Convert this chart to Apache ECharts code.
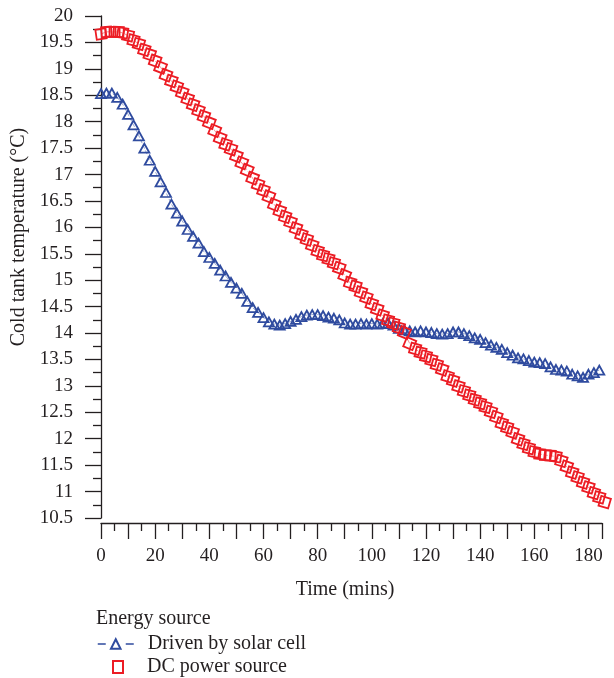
<!DOCTYPE html>
<html>
<head>
<meta charset="utf-8">
<script src="https://cdn.jsdelivr.net/npm/echarts@6/dist/echarts.min.js"></script>
<style>
  html, body { margin: 0; padding: 0; background: #fff; }
  #chart { width: 614px; height: 678px; }
</style>
</head>
<body>
<div id="chart"></div>
<script>
// 时间 (mins)
const solarTime = [0, 2, 4, 6, 8, 10, 12, 14, 16, 18, 20, 22, 24, 26, 28, 30, 32, 34, 36, 38,
  40, 42, 44, 46, 48, 50, 52, 54, 56, 58, 60, 62, 64, 66, 68, 70, 72, 74, 76, 78,
  80, 82, 84, 86, 88, 90, 92, 94, 96, 98, 100, 102, 104, 106, 108, 110, 112, 114, 116, 118,
  120, 122, 124, 126, 128, 130, 132, 134, 136, 138, 140, 142, 144, 146, 148, 150, 152, 154, 156, 158,
  160, 162, 164, 166, 168, 170, 172, 174, 176, 178, 180, 182, 184]
// 冷罐温度 (°C) - 太阳能电池驱动
const solarTemp = [18.53, 18.54, 18.54, 18.46, 18.33, 18.14, 17.94, 17.73, 17.50, 17.27,
  17.06, 16.86, 16.66, 16.44, 16.27, 16.12, 15.96, 15.83, 15.70, 15.54,
  15.43, 15.32, 15.19, 15.08, 14.96, 14.85, 14.75, 14.60, 14.48, 14.39,
  14.29, 14.21, 14.17, 14.15, 14.18, 14.22, 14.26, 14.31, 14.34, 14.35,
  14.35, 14.33, 14.30, 14.28, 14.25, 14.19, 14.17, 14.17, 14.18, 14.17,
  14.18, 14.17, 14.18, 14.19, 14.15, 14.09, 14.06, 14.04, 14.02, 14.04,
  14.02, 14.01, 13.99, 13.98, 13.99, 14.02, 14.02, 13.99, 13.95, 13.91,
  13.88, 13.82, 13.77, 13.73, 13.69, 13.63, 13.58, 13.53, 13.51, 13.48,
  13.45, 13.44, 13.42, 13.36, 13.31, 13.30, 13.28, 13.22, 13.19, 13.16,
  13.22, 13.25, 13.30]

// 直流电源
const dcTime = [0, 2, 3.5, 5, 6.5, 8, 10, 12, 14, 16, 18, 20, 22, 24, 26, 28, 30, 32, 34, 36, 38,
  40, 42, 44, 46, 48, 50, 52, 54, 56, 58, 60, 62, 64, 66, 68, 70, 72, 74, 76, 78,
  80, 82, 84, 86, 88, 90, 92, 94, 96, 98, 100, 102, 104, 106, 108, 110, 112, 114, 116, 118,
  120, 122, 124, 126, 128, 130, 132, 134, 136, 138, 140, 142, 144, 146, 148, 150, 152, 154, 156, 158,
  160, 162, 164, 166, 168, 170, 172, 174, 176, 178, 180, 182, 184, 186]
const dcTemp = [19.66, 19.70, 19.70, 19.70, 19.70, 19.68,
  19.63, 19.54, 19.47, 19.36, 19.27, 19.15, 19.03, 18.88, 18.77, 18.66,
  18.55, 18.43, 18.32, 18.21, 18.10, 17.98, 17.83, 17.69, 17.57, 17.48,
  17.35, 17.22, 17.08, 16.93, 16.81, 16.70, 16.58, 16.43, 16.31, 16.20,
  16.10, 15.98, 15.86, 15.77, 15.66, 15.55, 15.47, 15.40, 15.32, 15.23,
  15.09, 14.95, 14.88, 14.77, 14.67, 14.55, 14.45, 14.33, 14.24, 14.18,
  14.10, 14.01, 13.80, 13.70, 13.63, 13.56, 13.49, 13.40, 13.31, 13.18,
  13.10, 12.99, 12.90, 12.82, 12.74, 12.67, 12.60, 12.51, 12.41, 12.29,
  12.21, 12.12, 11.99, 11.90, 11.82, 11.75, 11.71, 11.69, 11.68, 11.66,
  11.58, 11.47, 11.36, 11.27, 11.17, 11.08, 10.97, 10.89, 10.80]

const xLabels = [0, 20, 40, 60, 80, 100, 120, 140, 160, 180]
const seriesNames = ['Driven by solar cell', 'DC power source']

const FONT = 'Liberation Serif'
const INK = '#231f20'
const BLUE = '#2f4b9f'
const RED = '#ec1c24'

const axisCommon = {
  axisLine: { show: true, lineStyle: { color: INK, width: 1.3 } },
  axisTick: { show: true, length: 16, lineStyle: { color: INK, width: 1.3 } },
  minorTick: { show: true, splitNumber: 2, length: 8, lineStyle: { color: INK, width: 1.3 } },
  splitLine: { show: false },
  minorSplitLine: { show: false },
  nameTextStyle: { fontFamily: FONT, fontSize: 20, color: INK }
}

const option = {
  animation: false,
  backgroundColor: '#fff',
  title: {
    text: 'Energy source',
    left: 96,
    top: 609,
    padding: 0,
    textStyle: { fontFamily: FONT, fontSize: 20, fontWeight: 'normal', color: INK }
  },
  legend: [
    {
      data: [seriesNames[0]],
      left: 97,
      top: 634,
      padding: 0,
      itemWidth: 36,
      itemHeight: 12,
      lineStyle: { type: [8, 20], width: 1.5, opacity: 1 },
      textStyle: { fontFamily: FONT, fontSize: 20, color: INK, padding: [0, 0, 0, 9] }
    },
    {
      data: [{ name: seriesNames[1], icon: 'rect' }],
      left: 112,
      top: 657,
      padding: 0,
      itemWidth: 10,
      itemHeight: 12,
      textStyle: { fontFamily: FONT, fontSize: 20, color: INK, padding: [0, 0, 0, 19] }
    }
  ],
  grid: { left: 101, right: 12, top: 16, bottom: 160 },
  xAxis: {
    ...axisCommon,
    type: 'value',
    min: 0,
    max: 185,
    interval: 10,
    offset: 5,
    name: 'Time (mins)',
    nameLocation: 'middle',
    nameGap: 57,
    nameTextStyle: { ...axisCommon.nameTextStyle, padding: [0, 13, 0, 0] },
    axisLabel: {
      margin: 24,
      fontFamily: FONT,
      fontSize: 19,
      color: INK,
      formatter: (v) => (xLabels.includes(v) ? String(v) : '')
    }
  },
  yAxis: {
    ...axisCommon,
    type: 'value',
    min: 10.5,
    max: 20,
    interval: 0.5,
    offset: 4,
    name: 'Cold tank temperature (°C)',
    nameLocation: 'middle',
    nameGap: 64,
    nameTextStyle: { ...axisCommon.nameTextStyle, padding: [0, 0, 0, 60] },
    axisLabel: { margin: 24, fontFamily: FONT, fontSize: 19, color: INK }
  },
  series: [
    {
      name: seriesNames[0],
      type: 'line',
      clip: false,
      color: BLUE,
      data: solarTime.map((t, i) => [t, solarTemp[i]]),
      symbol: 'triangle',
      symbolSize: [10, 9],
      showAllSymbol: true,
      itemStyle: { color: 'rgba(255,255,255,0)', borderColor: BLUE, borderWidth: 1.8 },
      lineStyle: { color: BLUE, width: 1, type: 'dashed', opacity: 0.5 }
    },
    {
      name: seriesNames[1],
      type: 'line',
      clip: false,
      color: RED,
      data: dcTime.map((t, i) => [t, dcTemp[i]]),
      symbol: 'rect',
      symbolSize: 10,
      showAllSymbol: true,
      itemStyle: { color: 'rgba(255,255,255,0)', borderColor: RED, borderWidth: 1.8 },
      lineStyle: { color: RED, width: 1, type: 'dashed', opacity: 0.5 }
    }
  ]
}

const chart = echarts.init(document.getElementById('chart'))
chart.setOption(option)

// 方块随曲线方向略微倾斜
const pts = dcTime.map((t, i) => chart.convertToPixel({ gridIndex: 0 }, [t, dcTemp[i]]))
const dcData = dcTime.map((t, i) => {
  const a = pts[Math.max(i - 1, 0)]
  const b = pts[Math.min(i + 1, pts.length - 1)]
  const deg = Math.atan2(a[1] - b[1], b[0] - a[0]) * 180 / Math.PI
  return { value: [t, dcTemp[i]], symbolRotate: deg * 0.4 }
})
chart.setOption({ series: [{}, { data: dcData }] })
</script>
</body>
</html>
